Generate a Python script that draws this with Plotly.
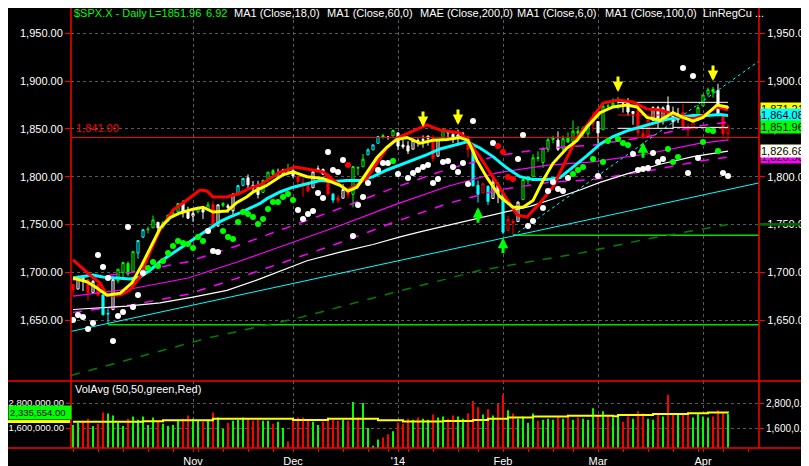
import datetime as dt
import plotly.graph_objects as go

# ---------------- data ----------------
month_days = [
    (2013, 9, [30]),
    (2013, 10, [1,2,3,4,7,8,9,10,11,14,15,16,17,18,21,22,23,24,25,28,29,30,31]),
    (2013, 11, [1,4,5,6,7,8,11,12,13,14,15,18,19,20,21,22,25,26,27,29]),
    (2013, 12, [2,3,4,5,6,9,10,11,12,13,16,17,18,19,20,23,24,26,27,30,31]),
    (2014, 1, [2,3,6,7,8,9,10,13,14,15,16,17,21,22,23,24,27,28,29,30,31]),
    (2014, 2, [3,4,5,6,7,10,11,12,13,14,18,19,20,21,24,25,26,27,28]),
    (2014, 3, [3,4,5,6,7,10,11,12,13,14,17,18,19,20,21,24,25,26,27,28,31]),
    (2014, 4, [1,2,3,4,7,8]),
]
dates = [dt.date(y, m, d) for (y, m, ds) in month_days for d in ds]

opens = [1687.26,1682.41,1691.90,1692.35,1678.79,1687.15,1676.22,1656.99,1660.88,1691.09,1699.86,1709.17,1700.49,1720.17,1736.72,1745.20,1746.48,1752.27,1747.48,1756.01,1759.42,1762.93,1772.27,1763.24,
         1758.70,1763.40,1765.67,1765.00,1770.74,1748.37,1769.96,1769.51,1764.37,1782.75,1790.66,1798.82,1790.79,1789.59,1783.52,1797.21,1806.33,1802.87,1803.48,1808.01,
         1806.55,1800.10,1794.15,1792.82,1788.36,1806.21,1807.60,1802.76,1781.71,1777.98,1777.48,1786.47,1781.46,1809.00,1810.39,1822.92,1828.02,1834.96,1842.97,1841.47,1842.61,
         1845.86,1833.21,1832.31,1828.71,1837.90,1839.00,1840.06,1841.26,1821.36,1840.52,1847.99,1844.23,1841.05,1844.71,1842.29,1826.96,1791.03,1783.00,1790.15,1777.17,1790.88,
         1782.68,1743.82,1753.38,1752.99,1776.01,1796.20,1800.45,1820.12,1814.82,1828.46,1839.03,1838.22,1829.24,1841.07,1836.78,1847.66,1845.79,1844.90,1855.12,
         1857.68,1849.23,1874.05,1874.18,1878.52,1877.86,1878.26,1866.15,1869.06,1845.07,1842.81,1858.92,1872.25,1860.09,1874.53,1867.67,1859.48,1867.09,1852.11,1850.07,1859.16,
         1873.96,1886.61,1891.43,1890.25,1863.92,1845.48]
highs = [1687.26,1696.55,1693.87,1692.35,1691.94,1687.15,1676.79,1662.47,1692.56,1703.44,1711.03,1711.57,1721.76,1733.45,1745.31,1747.79,1759.33,1752.27,1753.94,1759.82,1764.99,1772.09,1775.22,1768.53,
         1765.67,1768.78,1767.03,1773.74,1774.54,1770.78,1773.44,1771.78,1782.00,1791.53,1798.22,1802.33,1795.51,1795.73,1797.16,1804.84,1808.10,1808.42,1808.27,1813.55,
         1810.02,1800.10,1799.80,1792.82,1806.04,1811.52,1808.52,1802.97,1782.99,1780.92,1792.22,1786.77,1811.08,1810.88,1823.75,1829.75,1833.32,1842.84,1844.89,1842.47,1849.44,
         1845.86,1838.24,1837.16,1840.10,1840.02,1843.23,1843.15,1843.45,1839.26,1850.84,1847.99,1846.04,1849.31,1846.87,1842.29,1826.96,1795.98,1793.87,1790.15,1798.77,1793.88,
         1784.83,1758.73,1755.79,1774.06,1798.03,1799.94,1823.54,1826.55,1830.25,1841.65,1842.87,1847.50,1842.79,1846.13,1858.71,1852.91,1852.65,1854.53,1867.92,
         1857.68,1876.23,1876.53,1881.94,1883.57,1877.87,1882.35,1868.38,1874.40,1852.44,1862.30,1873.76,1874.14,1873.49,1883.97,1873.34,1871.87,1875.92,1855.55,1866.63,1875.18,
         1885.84,1893.17,1893.80,1897.28,1864.04,1854.95]
lows = [1674.99,1682.07,1680.34,1670.36,1677.33,1674.70,1655.03,1646.47,1660.88,1688.52,1692.13,1695.93,1700.49,1714.12,1735.74,1740.67,1746.48,1740.50,1745.50,1752.45,1757.67,1762.93,1757.24,1755.72,
        1752.70,1761.56,1755.76,1764.40,1746.20,1747.63,1767.85,1762.29,1760.64,1780.22,1790.66,1788.00,1784.72,1777.23,1783.52,1794.70,1800.58,1800.77,1802.77,1803.98,
        1798.60,1787.85,1779.09,1783.38,1788.36,1806.21,1801.75,1780.09,1772.28,1772.45,1777.48,1777.05,1767.99,1801.35,1810.25,1822.92,1828.02,1834.96,1839.81,1838.77,1842.41,
        1827.74,1829.13,1823.73,1828.71,1831.40,1830.38,1832.43,1815.52,1821.36,1840.52,1840.30,1835.23,1832.38,1840.88,1820.06,1790.29,1772.88,1783.00,1770.45,1777.17,1772.26,
        1739.66,1743.82,1737.92,1752.99,1776.01,1791.83,1800.41,1815.97,1809.22,1825.59,1835.01,1826.99,1824.58,1835.60,1836.78,1840.19,1840.66,1841.13,1847.67,
        1834.44,1849.23,1871.11,1874.18,1870.56,1867.04,1863.88,1854.38,1841.86,1839.57,1842.81,1858.92,1850.35,1854.63,1863.46,1849.69,1855.96,1852.56,1842.11,1850.07,1859.16,
        1873.96,1883.79,1882.65,1863.26,1841.48,1837.49]
closes = [1681.55,1695.00,1693.87,1678.66,1690.50,1676.12,1655.45,1656.40,1692.56,1703.20,1710.14,1698.06,1721.54,1733.15,1744.50,1744.66,1754.67,1746.38,1752.07,1759.77,1762.11,1771.95,1763.31,1756.54,
          1761.64,1767.93,1762.97,1770.49,1747.15,1770.61,1771.89,1767.69,1782.00,1790.62,1798.18,1791.53,1787.87,1781.37,1795.85,1804.76,1802.48,1802.75,1807.23,1805.81,
          1800.90,1795.15,1792.81,1785.03,1805.09,1808.37,1802.62,1782.22,1775.50,1775.32,1786.54,1781.00,1810.65,1809.60,1818.32,1827.99,1833.32,1842.02,1841.40,1841.07,1848.36,
          1831.98,1831.37,1826.77,1837.88,1837.49,1838.13,1842.37,1819.20,1838.88,1848.38,1845.89,1838.70,1843.80,1844.86,1828.46,1790.29,1781.56,1792.50,1774.20,1794.19,1782.59,
          1741.89,1755.20,1751.64,1773.43,1797.02,1799.84,1819.75,1819.26,1829.83,1838.63,1840.76,1828.75,1839.78,1836.25,1847.61,1845.12,1845.16,1854.29,1859.45,
          1845.73,1873.91,1873.81,1877.03,1878.04,1877.17,1867.63,1868.20,1846.34,1841.13,1858.83,1872.25,1860.77,1872.01,1866.52,1857.44,1865.62,1852.56,1849.04,1857.62,1872.34,
          1885.52,1890.90,1888.77,1865.09,1845.04,1851.96]

# candle colour per bar: r=red g=green w=white c=cyan
candle_tone = ("rwwrwrccwg" "gggccggwgg" "ggwwwgwgrw" "gwwccwwwgg" "gwwgwrrrww"
               "wrcrwrgggc" "ccgwgwwwww" "wwrwgwwwwr" "ccrcwwcrrw" "gggggggwgg"
               "ggggrwgggg" "wwwrrrwwww" "wwrrrggggw" "rr")

volumes = [1.75e6,1.85e6,1.95e6,2.05e6,1.70e6,1.80e6,2.35e6,2.30e6,2.20e6,1.85e6,1.70e6,2.05e6,2.15e6,2.00e6,2.15e6,1.75e6,2.10e6,1.90e6,1.80e6,1.70e6,1.75e6,1.95e6,2.05e6,2.20e6,
           2.05e6,1.95e6,1.90e6,2.00e6,2.35e6,2.10e6,1.55e6,1.85e6,1.95e6,2.00e6,2.10e6,2.05e6,1.95e6,2.00e6,1.95e6,1.95e6,1.80e6,1.90e6,1.60e6,0.95e6,
           2.05e6,2.10e6,2.10e6,1.95e6,1.90e6,1.75e6,1.90e6,2.10e6,2.00e6,1.95e6,2.00e6,1.95e6,2.85e6,2.10e6,2.80e6,1.60e6,0.75e6,1.05e6,1.15e6,1.30e6,1.45e6,
           1.85e6,1.80e6,2.05e6,2.00e6,2.10e6,2.05e6,2.00e6,2.25e6,2.10e6,2.15e6,2.05e6,2.20e6,2.15e6,2.05e6,2.30e6,2.90e6,2.60e6,2.25e6,2.50e6,2.20e6,2.75e6,
           3.20e6,2.45e6,2.30e6,2.05e6,2.15e6,1.85e6,2.30e6,1.95e6,2.00e6,2.05e6,2.00e6,2.15e6,2.05e6,2.25e6,2.00e6,2.10e6,2.05e6,2.00e6,2.55e6,
           2.20e6,2.40e6,2.15e6,2.10e6,2.20e6,1.90e6,2.15e6,2.05e6,2.40e6,2.30e6,2.05e6,2.00e6,2.25e6,2.15e6,3.20e6,2.25e6,2.30e6,2.30e6,2.35e6,2.10e6,2.30e6,
           2.15e6,2.10e6,2.15e6,2.45e6,2.35e6,2.30e6]

volavg_idx = [0, 13, 14, 18, 28, 44, 51, 61, 66, 74, 80, 83, 87, 92, 99, 108, 109, 116, 123, 127, 131]
volavg_val = [1.90e6,1.90e6,1.93e6,1.97e6,2.04e6,1.99e6,2.04e6,1.97e6,1.91e6,1.94e6,1.99e6,2.05e6,2.10e6,2.15e6,2.19e6,2.16e6,2.22e6,2.27e6,2.31e6,2.34e6,2.3356e6]

# indicator lines (bar index, price)
ma6_idx = [0,2.8,4.8,6.8,9.4,11.8,13.8,15.8,17.4,19.4,21.4,24,26,28,30.8,32.8,34.8,36,38.8,42,44,46.8,50,53.4,55,56.8,58.8,60.8,62.8,64.8,66.8,69.4,72,74.8,77.4,79,80.8,82.8,85.4,88,90,92,94,96,98.8,100.8,102.8,105.4,108,110.8,112.8,114.8,117.4,120,122,124,126,128.8,130.8,131]
ma6_val = [1694,1690,1683.5,1676,1678,1689,1708,1729,1746,1757,1762,1766,1768,1763,1764,1773,1779,1784,1791,1802,1805,1800,1798,1791,1785,1789,1804,1820,1831,1839,1841,1835,1838,1839,1841,1838,1817,1799,1779,1768,1768,1775,1796,1814,1830,1838,1852,1867,1873,1875,1873,1862,1859,1867,1862,1858,1862,1875,1873,1871.21]

red_idx = [0,3.4,5.4,6.8,9.4,11.4,13.4,15.4,17.4,20,22.8,25.4,26.8,28,30.8,33.4,35.4,37.4,41.4,44.4,46.8,50,52.8,54.8,56.8,58.8,60.8,62.8,64.8,67.4,70.8,73.4,77.4,79,81.4,84,86.8,88.8,90.8,93.4,96,98.8,100.8,102.8,106,109,112,114.8,117.4,119.4,121.4,124,126,128.8,131]
red_val = [1713,1697,1688.7,1676.2,1676.2,1681.4,1695,1721.2,1744.2,1765.1,1775.6,1786,1785,1778.7,1778.7,1782.9,1788.1,1791.3,1804.9,1810.1,1808,1804.9,1793.4,1786,1791.3,1798.6,1814.3,1830,1840.4,1846.7,1854.1,1848.8,1845.7,1838.4,1820.6,1799.6,1775.6,1759.9,1757.8,1772.4,1789.2,1820.6,1841.5,1854,1877.1,1880.2,1878.1,1870.8,1869.7,1866.6,1862.4,1860.3,1863.5,1872.9,1869.7]

ma18_idx = [0,4,6,9.4,11.4,13.4,15.4,17.4,19.4,21.4,23.4,25.4,27.4,29.4,31.4,33.4,35.4,37.4,38.8,41.4,44,46.8,49.4,52,54.8,57.4,60,62.8,65.4,68,70.8,73.4,76,78.8,81.4,84,86.8,89.4,92,94.8,97.4,100,102.8,105.4,108,110.8,113.4,116,118.8,121.4,124,126.8,129.4,131]
ma18_val = [1694,1697,1695,1694,1693,1695,1702,1711,1718,1725,1732,1739,1746,1753,1758,1762,1767,1772,1777,1784,1789,1793,1796,1795,1796,1796,1800,1807,1812,1817,1823,1829,1833,1836.5,1830,1821,1809,1800,1797,1797,1799,1810,1822,1834,1842,1848,1852,1856,1860,1862,1864,1864,1865,1864.08]

ma100_idx = [0,4,7.4,10.8,17.4,24,30.8,37.4,46.8,53.4,60,65.4,70,74.8,80,84.8,91.4,98,101.4,105.4,110.8,117.4,124,131]
ma100_val = [1661,1662.5,1663.5,1664.5,1668,1674,1681,1693,1712,1721,1729,1737,1743,1749,1755,1761,1769,1780,1786,1794,1803,1813,1821,1826.68]

ma60_idx = [0,12,23,33,43,54,64,75,85,95,104,115,125,131]
ma60_val = [1675,1683,1694,1711,1729.6,1750,1770,1790,1804.2,1812,1815.4,1824,1834.5,1838.5]
env_up_val = [1692,1700,1711,1728,1747,1768,1788,1808,1822,1830,1833,1842,1853,1857]
env_lo_val = [1658,1666,1677,1694,1712,1732,1752,1772,1786,1794,1797,1806,1816,1820.5]

ma200_idx = [-0.4,26.8,45,65,81.4,101.4,115,131]
ma200_val = [1592,1631,1652,1680,1702,1720,1735,1750]

# dots (bar index, price)
white_dot_idx = [0,1,2,3,4,5,6,7,8,9,10,11,12,13,14,27,28,29,45,46,47,48,49,50,51,52,53,54,56,57,58,59,61,62,63,65,67,68,69,70,71,72,73,74,75,76,77,78,79,80,84,89,90,91,92,94,95,96,97,98,99,105,112,113,114,115,116,117,118,122,123,124,125,130,131]
white_dot_val = [1650,1655.2,1653.1,1640.6,1646.9,1718,1705.5,1694,1628,1654.2,1658.4,1747.3,1663.6,1676.2,1699.2,1743.1,1722.2,1721.2,1765.1,1755.7,1760.9,1764.1,1782.9,1777.7,1825.8,1807,1804.9,1817.4,1737.9,1770.3,1778.7,1793.4,1807,1814.3,1814.3,1802.8,1798.6,1803.8,1807,1810.1,1812.2,1793.4,1797.5,1815.3,1816.4,1810.1,1804.9,1814.3,1792.3,1858.2,1835.2,1818.5,1843.6,1748.4,1753.6,1767.2,1785,1794.4,1787.1,1785,1798.6,1800.7,1823.7,1807,1808,1809,1824.7,1815.3,1818.5,1913.7,1803.8,1905.3,1819.5,1803.8,1800.7]
green_dot_idx = [15,16,17,18,19,20,21,22,23,24,25,26,30,31,32,33,34,35,36,37,38,39,40,41,42,43,44,64,100,101,102,104,106,107,109,110,111,119,120,121,126,127,128,129]
green_dot_val = [1704.4,1710.7,1706.5,1711.7,1720.1,1727.4,1732.7,1730.6,1729.5,1725.3,1736.9,1732.7,1743.1,1736.9,1734.8,1752.5,1763,1760.9,1757.8,1750.5,1755.7,1766.2,1773.5,1773.5,1778.7,1781.8,1775.6,1816.4,1802.8,1807,1810.1,1818.5,1815.3,1837.3,1839.4,1835.2,1833.1,1829,1815.3,1820.6,1836.3,1848.8,1847.8,1826.8]
red_dot_idx = [55,85,86,87,88]
red_dot_val = [1812.2,1832.1,1825.8,1799.6,1797.5]

# arrows (bar index, price at tip)
down_arrow_idx = [70, 77, 109, 128]
down_arrow_val = [1852, 1854, 1888.6, 1900]
up_arrow_idx = [81, 86, 114]
up_arrow_val = [1768, 1736, 1836]

# trendlines / horizontal levels (bar index, price)
trend_long_idx = [-0.4, 137.2]
trend_long_val = [1638.1, 1793.5]
trend_steep_idx = [88, 137.2]
trend_steep_val = [1737.9, 1921.0]
level_1841 = 1841.0
green_level_idx = [[7, 137.2], [88, 137.2]]
green_level_val = [1645.0, 1738.6]
white_level_idx = [[109, 131], [109, 120], [120, 131]]
white_level_val = [1877.8, 1850.6, 1851.6]
red_level_idx = [109, 131]
red_level_val = 1864.5

price_ticks = [1650, 1700, 1750, 1800, 1850, 1900, 1950]
vol_ticks = [1.6e6, 2.8e6]
month_labels = ["Nov", "Dec", "'14", "Feb", "Mar", "Apr"]

right_boxes = [  # (value, colour)
    (1871.21, "#ffff00"), (1864.08, "#00ffff"), (1851.96, "#00ff00"), (1820.5, "#ff00ff"), (1826.68, "#fffff0"),
]
last_volavg = 2335554

# ---------------- figure ----------------
n = len(closes)
X = list(range(n))
GREEN, RED, CYAN, WHITE, YELLOW, MAG = "#00ff00", "#ff0000", "#00ffff", "#ffffff", "#ffff00", "#ff00ff"
TONE = {"r": RED, "g": GREEN, "w": WHITE, "c": CYAN}

# the page draws the figure 8px in from the top-left corner of the window
FW, FH = 801, 458
L, R, T, B = 63, 50, 0, 18
PW, PH = FW - L - R, FH - T - B          # 688 x 440
vol_top = (440 - 373) / PH
xr = [-0.4, 137.2]
yr = [1586.2, 1976.5]
vr = [0.64e6, 3.856e6]

month_idx = []
week_idx = []
for i, d in enumerate(dates):
    if i > 0 and d.month != dates[i - 1].month and d.month != 10:
        month_idx.append(i)
    if i == 0 or d.weekday() < dates[i - 1].weekday():
        week_idx.append(i)
week_idx.append(135)

fig = go.Figure()

def line(xs, ys, color, width, dash="solid", shape="linear"):
    fig.add_trace(go.Scatter(x=xs, y=ys, mode="lines", xaxis="x", yaxis="y",
                             line=dict(color=color, width=width, dash=dash, shape=shape), hoverinfo="skip"))

# levels and trendlines (behind everything)
line(xr, [level_1841, level_1841], RED, 1)
for xs, v in zip(green_level_idx, green_level_val):
    line(xs, [v, v], "#00dd00", 1.5)
line(ma200_idx, ma200_val, "#008000", 1.5, "dash")
line(trend_long_idx, trend_long_val, CYAN, 1)
line(trend_steep_idx, trend_steep_val, CYAN, 1, "dot")
line(ma60_idx, env_up_val, MAG, 1.5, "dash")
line(ma60_idx, env_lo_val, MAG, 1.5, "dash")
line(ma60_idx, ma60_val, MAG, 1.2)
line(ma100_idx, ma100_val, WHITE, 1.2)

# candles
for key, col in TONE.items():
    ids = [i for i in range(n) if candle_tone[i] == key]
    fig.add_trace(go.Candlestick(
        x=[X[i] for i in ids], open=[opens[i] for i in ids], high=[highs[i] for i in ids],
        low=[lows[i] for i in ids], close=[closes[i] for i in ids],
        increasing=dict(line=dict(color=col, width=1), fillcolor="black"),
        decreasing=dict(line=dict(color=col, width=1), fillcolor=col),
        whiskerwidth=0, xaxis="x", yaxis="y", hoverinfo="skip"))

for xs, v in zip(white_level_idx, white_level_val):
    line(xs, [v, v], WHITE, 1)
line(red_level_idx, [red_level_val, red_level_val], RED, 1)
line(ma18_idx, ma18_val, CYAN, 3)
line(red_idx, red_val, RED, 3)
line(ma6_idx, ma6_val, YELLOW, 3)

for xs, ys, col in [(white_dot_idx, white_dot_val, WHITE), (green_dot_idx, green_dot_val, GREEN), (red_dot_idx, red_dot_val, RED)]:
    fig.add_trace(go.Scatter(x=xs, y=ys, mode="markers", xaxis="x", yaxis="y",
                             marker=dict(color=col, size=6, line=dict(width=0)), hoverinfo="skip"))

# volume
vcol = [GREEN if (i == 0 or closes[i] >= closes[i - 1]) else RED for i in range(n)]
fig.add_trace(go.Bar(x=X, y=volumes, marker=dict(color=vcol, line=dict(width=0)), width=0.25,
                     xaxis="x2", yaxis="y2", hoverinfo="skip"))
fig.add_trace(go.Scatter(x=volavg_idx, y=volavg_val, mode="lines", line=dict(color=YELLOW, width=2, shape="hv"),
                         xaxis="x2", yaxis="y2", hoverinfo="skip"))
# helpers so the right-hand axes render
fig.add_trace(go.Scatter(x=[0], y=[1700], mode="markers", marker=dict(opacity=0), xaxis="x", yaxis="y3", hoverinfo="skip"))
fig.add_trace(go.Scatter(x=[0], y=[2e6], mode="markers", marker=dict(opacity=0), xaxis="x2", yaxis="y4", hoverinfo="skip"))

FONT = "Liberation Sans, Arial, sans-serif"
TF = dict(size=11, color="white", family=FONT)
grid = dict(showgrid=True, gridcolor="#5a5a5a", griddash="dot", gridwidth=1)
price_text = [f"{v:,.2f}" for v in price_ticks]
common = dict(zeroline=False, showline=False, automargin=False)
fig.update_layout(
    width=FW, height=FH, margin=dict(l=L, r=R, t=T, b=B, autoexpand=False),
    paper_bgcolor="black", plot_bgcolor="black", showlegend=False, hovermode=False,
    font=dict(family=FONT, size=11, color="white"), boxgap=0.4,
    xaxis=dict(domain=[0, 1], anchor="y", range=xr, showticklabels=False, ticks="", tickvals=month_idx,
               rangeslider=dict(visible=False), **grid, **common),
    xaxis2=dict(domain=[0, 1], anchor="y2", range=xr, tickvals=month_idx, ticktext=month_labels,
                ticks="outside", ticklen=3, tickcolor=RED, tickfont=dict(size=11, color="white", family=FONT),
                minor=dict(tickmode="array", tickvals=week_idx, ticks="outside", ticklen=3, tickcolor=RED, showgrid=False),
                **grid, **common),
    yaxis=dict(domain=[vol_top, 1], anchor="x", range=yr, tickvals=price_ticks, ticktext=price_text, side="left",
               ticks="outside", ticklen=5, tickcolor=RED, tickfont=TF, **grid, **common),
    yaxis3=dict(domain=[vol_top, 1], anchor="x", overlaying="y", side="right", range=yr, tickvals=price_ticks,
                ticktext=price_text, ticks="outside", ticklen=5, tickcolor=RED, showgrid=False, tickfont=TF, **common),
    yaxis2=dict(domain=[0, vol_top], anchor="x2", range=vr, tickvals=vol_ticks,
                ticktext=[f"{v:,.2f}" for v in vol_ticks], ticks="outside", ticklen=4, tickcolor=RED,
                tickfont=dict(size=9.5, color="white", family=FONT), **grid, **common),
    yaxis4=dict(domain=[0, vol_top], anchor="x2", overlaying="y2", side="right", range=vr, tickvals=vol_ticks,
                ticktext=[f"{v:,.0f}"[:7] + "..." for v in vol_ticks], ticks="outside", ticklen=4, tickcolor=RED,
                showgrid=False, tickfont=dict(size=10, color="white", family=FONT), **common),
)

# frame lines
xl, xrp = -L / PW, 1 + R / PW
shapes = [
    dict(type="line", xref="paper", yref="paper", x0=0, x1=0, y0=0, y1=1, line=dict(color=RED, width=1.5)),
    dict(type="line", xref="paper", yref="paper", x0=1, x1=1, y0=0, y1=1, line=dict(color=RED, width=1.5)),
    dict(type="line", xref="paper", yref="paper", x0=xl, x1=xrp, y0=vol_top, y1=vol_top, line=dict(color=RED, width=1.5)),
    dict(type="line", xref="paper", yref="paper", x0=xl, x1=xrp, y0=0, y1=0, line=dict(color=RED, width=1.5)),
    dict(type="rect", xref="paper", yref="y", x0=1, x1=xrp, y0=1748.6, y1=1751.6, fillcolor="#006400", line=dict(width=0)),
    dict(type="rect", xref="paper", yref="paper", x0=xl, x1=(-L + 62) / PW, y0=(440 - 423 + 8) / PH, y1=(440 - 420 + 8) / PH,
         fillcolor=YELLOW, line=dict(width=0)),
]
fig.update_layout(shapes=shapes)

ann = []
# header (pixel positions measured in the window, figure is offset by 8)
hdr = [(72, "$SPX.X - Daily", GREEN), (147, "L=1851.96", GREEN), (204, "6.92", GREEN),
       (232, "MA1 (Close,18,0)", WHITE), (325, "MA1 (Close,60,0)", WHITE), (418, "MAE (Close,200,0)", WHITE),
       (515, "MA1 (Close,6,0)", WHITE), (603, "MA1 (Close,100,0)", WHITE), (701, "LinRegCu ...", WHITE)]
for px, t, c in hdr:
    ann.append(dict(xref="paper", yref="paper", x=(px - 71) / PW, y=1 - 5.5 / PH, xanchor="left", yanchor="middle",
                    text=t, showarrow=False, font=dict(size=11, color=c, family=FONT)))
ann.append(dict(xref="paper", yref="paper", x=2 / PW, y=(440 - 381) / PH, xanchor="left", yanchor="middle",
                text="VolAvg (50,50,green,Red)", showarrow=False, font=dict(size=11, color=WHITE, family=FONT)))
ann.append(dict(xref="paper", yref="y", x=3 / PW, y=level_1841, xanchor="left", yanchor="bottom", yshift=1,
                text=f"{level_1841:,.2f}", showarrow=False, font=dict(size=11, color=RED, family=FONT)))
for v, c in right_boxes:
    ann.append(dict(xref="paper", yref="y", x=1 + 1 / PW, y=v, xanchor="left", yanchor="middle",
                    text=f"{v:,.2f}", showarrow=False, bgcolor=c, borderpad=0, width=49, align="left",
                    font=dict(size=11, color="black", family=FONT)))
ann.append(dict(xref="paper", yref="y2", x=xl, y=last_volavg, xanchor="left", yanchor="middle",
                text=f"{last_volavg:,.2f}", showarrow=False, bgcolor=GREEN, borderpad=1, width=60, align="left",
                font=dict(size=9.5, color="black", family=FONT)))
for xi, yv in zip(down_arrow_idx, down_arrow_val):
    ann.append(dict(x=xi, y=yv, xref="x", yref="y", text="", showarrow=True, arrowhead=2, arrowsize=0.7,
                    arrowwidth=3, arrowcolor=YELLOW, ax=0, ay=-17))
for xi, yv in zip(up_arrow_idx, up_arrow_val):
    ann.append(dict(x=xi, y=yv, xref="x", yref="y", text="", showarrow=True, arrowhead=2, arrowsize=0.7,
                    arrowwidth=3, arrowcolor=GREEN, ax=0, ay=17))
fig.update_layout(annotations=ann)

fig.write_html("out.html")
